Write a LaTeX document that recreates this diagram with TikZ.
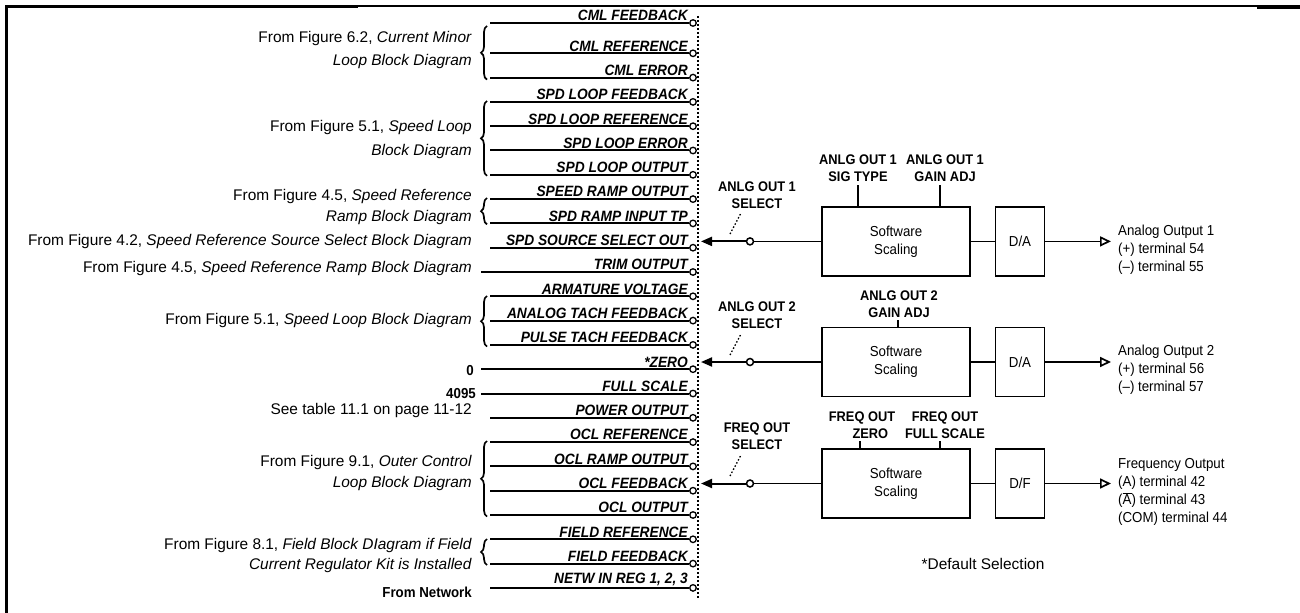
\documentclass[tikz,border=0pt]{standalone}
\usepackage{fontspec}
\setmainfont{Liberation Sans}
\newfontfamily\nf{Liberation Sans}[FakeStretch=0.92]
\usetikzlibrary{decorations.pathreplacing,arrows.meta}
\begin{document}
\begin{tikzpicture}[x=1bp,y=-1bp,
  sig/.style={font=\nf\fontsize{15}{15}\selectfont\bfseries\itshape, anchor=south east, inner sep=0pt},
  src/.style={font=\fontsize{15.5}{24}\selectfont, align=right, anchor=east, inner sep=0pt},
  srcb/.style={font=\nf\fontsize{14.5}{18}\selectfont\bfseries, align=right, anchor=east, inner sep=0pt},
  term/.style={circle, draw, fill=white, line width=1.3bp, minimum size=6.5bp, inner sep=0pt},
  wire/.style={line width=2bp},
  thin/.style={line width=1.6bp},
  brc/.style={decorate, decoration={brace, amplitude=6bp}, line width=1.7bp},
  blk/.style={draw, line width=1.7bp, align=center, minimum height=69bp, inner sep=0pt, font=\nf\fontsize{14.5}{18}\selectfont},
  parm/.style={font=\nf\fontsize{14}{17}\selectfont\bfseries, align=center, inner sep=0pt},
  outl/.style={font=\nf\fontsize{14.5}{18}\selectfont, align=left, anchor=west, inner sep=0pt},
  swline/.style={line width=1.3bp, dash pattern=on 1.5bp off 2bp},
  sel/.style={-{Triangle[length=11bp,width=9bp]}, line width=2bp},
  outarr/.style={-{Triangle[open,length=11bp,width=10bp,fill=white]}, line width=1.7bp}
]
\useasboundingbox (0,0) rectangle (1300,613);
% frame
\draw[line width=3bp] (6.5,613) -- (6.5,6.5) -- (358,6.5);
\draw[line width=2bp] (358,6) -- (1300,6);
\draw[line width=4bp] (1257,7) -- (1300,7);

% signal rows
\foreach \i/\t/\sx/\yy in {0/CML FEEDBACK/490/23, 1/CML REFERENCE/490/53.3, 2/CML ERROR/490/77.6,
  3/SPD LOOP FEEDBACK/490/101.9, 4/SPD LOOP REFERENCE/490/126.2, 5/SPD LOOP ERROR/490/150.5, 6/SPD LOOP OUTPUT/490/174.8,
  7/SPEED RAMP OUTPUT/490/199.1, 8/SPD RAMP INPUT TP/490/223.4, 9/SPD SOURCE SELECT OUT/490/247.7,
  10/TRIM OUTPUT/481/272, 11/ARMATURE VOLTAGE/490/296.3, 12/ANALOG TACH FEEDBACK/490/320.6, 13/PULSE TACH FEEDBACK/490/344.9,
  14/*ZERO/481/369.2, 15/FULL SCALE/481/393.5, 16/POWER OUTPUT/490/417.8,
  17/OCL REFERENCE/490/442.1, 18/OCL RAMP OUTPUT/490/466.4, 19/OCL FEEDBACK/490/490.7, 20/OCL OUTPUT/490/515,
  21/FIELD REFERENCE/490/539.3, 22/FIELD FEEDBACK/490/563.6, 23/{NETW IN REG 1, 2, 3}/490/587.9}{
  \node[term] (r\i) at (693,\yy) {};
  \coordinate (s\i) at (\sx,\yy);
  \draw[wire] (s\i) -- (r\i.west);
  \node[sig] (l\i) at (688,\yy-1.8) {\t};
}

% bus
\coordinate (bt) at (698,16);
\coordinate (bb) at (698,600);
\draw[line width=1.6bp, dash pattern=on 1.6bp off 2.4bp] (bt) -- (bb);

% braces and sources
\draw[brc] (487,79.6) -- (487,26) ;
\node[src] (g1) at (472,50) {From Figure 6.2, \textit{Current Minor}\\\textit{Loop Block Diagram}};
\draw[brc] (487,175.8) -- (487,101) ;
\node[src] (g2) at (472,139.5) {From Figure 5.1, \textit{Speed Loop}\\\textit{Block Diagram}};
\draw[brc] (487,224.4) -- (487,198) ;
\node[src, font=\fontsize{15.5}{21}\selectfont] (g3) at (472,207) {From Figure 4.5, \textit{Speed Reference}\\\textit{Ramp Block Diagram}};
\node[src] (g4) at (472,241.5) {From Figure 4.2, \textit{Speed Reference Source Select Block Diagram}};
\node[src] (g5) at (472,269) {From Figure 4.5, \textit{Speed Reference Ramp Block Diagram}};
\draw[brc] (487,346.5) -- (487,296) ;
\node[src] (g6) at (472,321) {From Figure 5.1, \textit{Speed Loop Block Diagram}};
\node[srcb] (g7) at (474,371) {0};
\node[srcb] (g8) at (476,393.5) {4095};
\node[src] (g9) at (472,411) {See table 11.1 on page 11-12};
\draw[brc] (487,516.5) -- (487,441) ;
\node[src, font=\fontsize{15.5}{21}\selectfont] (g10) at (472,473) {From Figure 9.1, \textit{Outer Control}\\\textit{Loop Block Diagram}};
\draw[brc] (487,565) -- (487,539) ;
\node[src, font=\fontsize{15.5}{21}\selectfont] (g11) at (472,555.5) {From Figure 8.1, \textit{Field Block DIagram if Field}\\\textit{Current Regulator Kit is Installed}};
\node[srcb] (g12) at (472,592) {From Network};

% ---- output 1
\coordinate (a1) at (701,241.4);
\node[term, minimum size=7bp, line width=1.5bp] (p1) at (750,241.4) {};
\draw[sel] (p1.west) -- (a1);
\node[blk, minimum width=148bp] (b1) at (896,241.4) {Software\\Scaling};
\node[blk, minimum width=49bp] (d1) at (1020,241.4) {D/A};
\draw[thin] (p1.east) -- (b1.west);
\draw[thin] (b1.east) -- (d1.west);
\coordinate (o1) at (1111,241.4);
\draw[outarr] (d1.east) -- (o1);
\node[outl] (t1) at (1118,250) {Analog Output 1\\(+) terminal 54\\(–) terminal 55};
\coordinate (w1a) at (730,234);
\coordinate (w1b) at (741,213);
\draw[swline] (w1a) -- (w1b);
\node[parm] (q1) at (757,195) {ANLG OUT 1\\SELECT};
\node[parm] (q2) at (858,168) {ANLG OUT 1\\SIG TYPE};
\node[parm] (q3) at (945,168) {ANLG OUT 1\\GAIN ADJ};
\draw[thin] (b1.north -| 858,0) -- (858,185);
\draw[thin] (b1.north -| 940,0) -- (940,185);

% ---- output 2
\coordinate (a2) at (701,362);
\node[term, minimum size=7bp, line width=1.5bp] (p2) at (750,362) {};
\draw[sel] (p2.west) -- (a2);
\node[blk, minimum width=148bp] (b2) at (896,362) {Software\\Scaling};
\node[blk, minimum width=49bp] (d2) at (1020,362) {D/A};
\draw[thin] (p2.east) -- (b2.west);
\draw[thin] (b2.east) -- (d2.west);
\coordinate (o2) at (1111,362);
\draw[outarr] (d2.east) -- (o2);
\node[outl] (t2) at (1118,370) {Analog Output 2\\(+) terminal 56\\(–) terminal 57};
\coordinate (w2a) at (730,355);
\coordinate (w2b) at (741,334);
\draw[swline] (w2a) -- (w2b);
\node[parm] (q4) at (757,315) {ANLG OUT 2\\SELECT};
\node[parm] (q5) at (899,304) {ANLG OUT 2\\GAIN ADJ};
\draw[thin] (b2.north -| 898,0) -- (898,320);

% ---- output 3
\coordinate (a3) at (701,483.5);
\node[term, minimum size=7bp, line width=1.5bp] (p3) at (750,483.5) {};
\draw[sel] (p3.west) -- (a3);
\node[blk, minimum width=148bp] (b3) at (896,483.5) {Software\\Scaling};
\node[blk, minimum width=49bp] (d3) at (1020,483.5) {D/F};
\draw[thin] (p3.east) -- (b3.west);
\draw[thin] (b3.east) -- (d3.west);
\coordinate (o3) at (1111,483.5);
\draw[outarr] (d3.east) -- (o3);
\node[outl, anchor=north west] (t3) at (1118,458) {Frequency Output\\(A) terminal 42\\(\(\overline{\mbox{A}}\)) terminal 43\\(COM) terminal 44};
\coordinate (w3a) at (730,476);
\coordinate (w3b) at (741,455);
\draw[swline] (w3a) -- (w3b);
\node[parm] (q6) at (757,436) {FREQ OUT\\SELECT};
\node[parm] (q7) at (862,425) {FREQ OUT\\\hspace*{1.2em}ZERO};
\node[parm] (q8) at (945,425) {FREQ OUT\\FULL SCALE};
\draw[thin] (b3.north -| 860,0) -- (860,441);
\draw[thin] (b3.north -| 940,0) -- (940,441);

\node[font=\fontsize{15.5}{18}\selectfont] (ds) at (983,564) {*Default Selection};
\end{tikzpicture}
\end{document}
